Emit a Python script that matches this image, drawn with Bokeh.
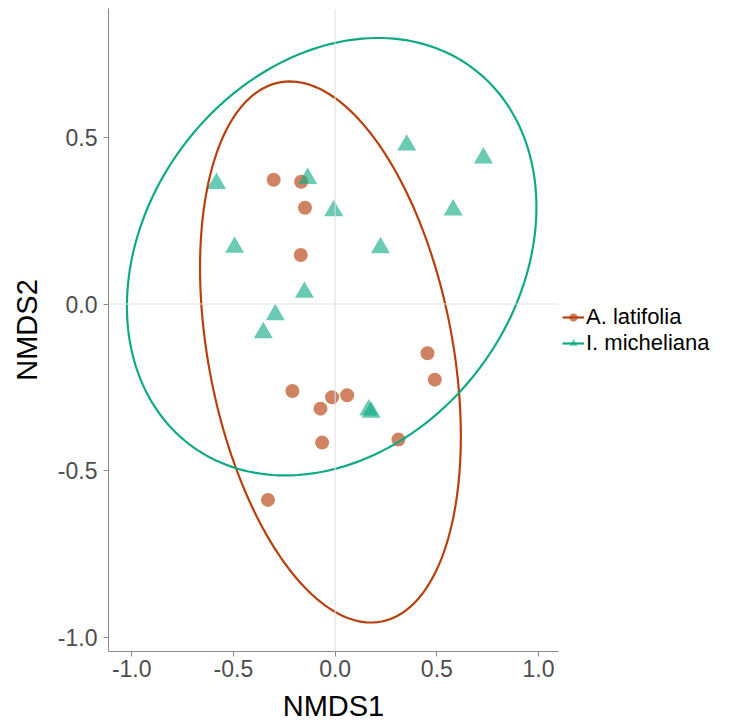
import numpy as np
from bokeh.plotting import figure
from bokeh.models import (Range1d, FixedTicker, NumeralTickFormatter, Span,
                          Legend, LegendItem)
from bokeh.embed import file_html
from bokeh.resources import INLINE

# --- data ---
lat_x = [-0.302, -0.167, -0.148, -0.169, 0.454, 0.490, -0.210, -0.015,
         0.059, -0.072, -0.064, 0.311, -0.330]
lat_y = [0.373, 0.367, 0.289, 0.147, -0.148, -0.227, -0.261, -0.280,
         -0.274, -0.314, -0.416, -0.407, -0.588]

mic_x = [-0.583, -0.135, 0.352, 0.729, -0.007, 0.580, -0.494, 0.223,
         -0.151, -0.294, -0.353, 0.165, 0.177]
mic_y = [0.362, 0.377, 0.477, 0.438, 0.280, 0.282, 0.170, 0.169,
         0.035, -0.032, -0.086, -0.318, -0.325]

# 95% ellipse parameters (centre, half-extents, covariance term) per group
lat_ell = dict(cx=-0.023, cy=-0.144, sx=0.641, sy=0.812, sxy=-0.162)
mic_ell = dict(cx=-0.017, cy=0.142, sx=1.0065, sy=0.6565, sxy=0.1497)

x_ticks = [-1.0, -0.5, 0.0, 0.5, 1.0]
y_ticks = [-1.0, -0.5, 0.0, 0.5]
groups = ["A. latifolia", "I. micheliana"]

LAT_LINE = "#B7410E"
MIC_LINE = "#0FAA85"


def ellipse_xy(e, n=200):
    t = np.linspace(0, 2 * np.pi, n)
    S = np.array([[e["sx"] ** 2, e["sxy"]], [e["sxy"], e["sy"] ** 2]])
    L = np.linalg.cholesky(S)
    pts = L @ np.vstack([np.cos(t), np.sin(t)])
    return e["cx"] + pts[0], e["cy"] + pts[1]


p = figure(frame_width=450, frame_height=643,
           x_range=Range1d(-1.114, 1.098), y_range=Range1d(-1.043, 0.887),
           output_backend="svg", toolbar_location=None,
           min_border_left=108, min_border_top=8, min_border_bottom=66,
           min_border_right=10)
p.outline_line_color = None
p.background_fill_color = "white"
p.border_fill_color = "white"
p.xgrid.visible = False
p.ygrid.visible = False

p.add_layout(Span(location=0, dimension="width", line_color="#E0E0E0", line_width=1))
p.add_layout(Span(location=0, dimension="height", line_color="#E0E0E0", line_width=1))

r_lat = p.scatter(lat_x, lat_y, marker="circle", size=14,
                  fill_color=LAT_LINE, fill_alpha=0.65, line_color=None)
r_mic = p.scatter(mic_x, mic_y, marker="triangle", size=19,
                  fill_color=MIC_LINE, fill_alpha=0.62, line_color=None)

ex, ey = ellipse_xy(lat_ell)
l_lat = p.line(ex, ey, line_color=LAT_LINE, line_width=2.2)
ex, ey = ellipse_xy(mic_ell)
l_mic = p.line(ex, ey, line_color=MIC_LINE, line_width=2.2)

for ax in (p.xaxis[0], p.yaxis[0]):
    ax.axis_line_color = "#8A8A8A"
    ax.major_tick_line_color = "#8A8A8A"
    ax.major_tick_out = 5
    ax.major_tick_in = 0
    ax.minor_tick_line_color = None
    ax.major_label_text_font = "Liberation Sans"
    ax.major_label_text_font_size = "23px"
    ax.major_label_text_color = "#4D4D4D"
    ax.axis_label_text_font = "Liberation Sans"
    ax.axis_label_text_font_size = "29px"
    ax.axis_label_text_font_style = "normal"
    ax.axis_label_text_color = "black"
    ax.formatter = NumeralTickFormatter(format="0.0")

p.xaxis[0].ticker = FixedTicker(ticks=x_ticks)
p.yaxis[0].ticker = FixedTicker(ticks=y_ticks)
p.xaxis[0].axis_label = "NMDS1"
p.yaxis[0].axis_label = "NMDS2"
p.xaxis[0].major_label_standoff = 3
p.yaxis[0].major_label_standoff = 6
p.xaxis[0].axis_label_standoff = 10
p.yaxis[0].axis_label_standoff = 12

legend = Legend(items=[LegendItem(label=groups[0], renderers=[r_lat, l_lat]),
                       LegendItem(label=groups[1], renderers=[r_mic, l_mic])],
                location="center_left", orientation="vertical")
legend.border_line_color = None
legend.background_fill_alpha = 0
legend.label_text_font = "Liberation Sans"
legend.label_text_font_size = "22px"
legend.label_text_color = "black"
legend.glyph_width = 22
legend.glyph_height = 20
legend.label_height = 20
legend.label_standoff = 2
legend.spacing = 0
legend.padding = 4
legend.margin = 4
p.add_layout(legend, "right")

open("out.html", "w").write(file_html(p, INLINE))
